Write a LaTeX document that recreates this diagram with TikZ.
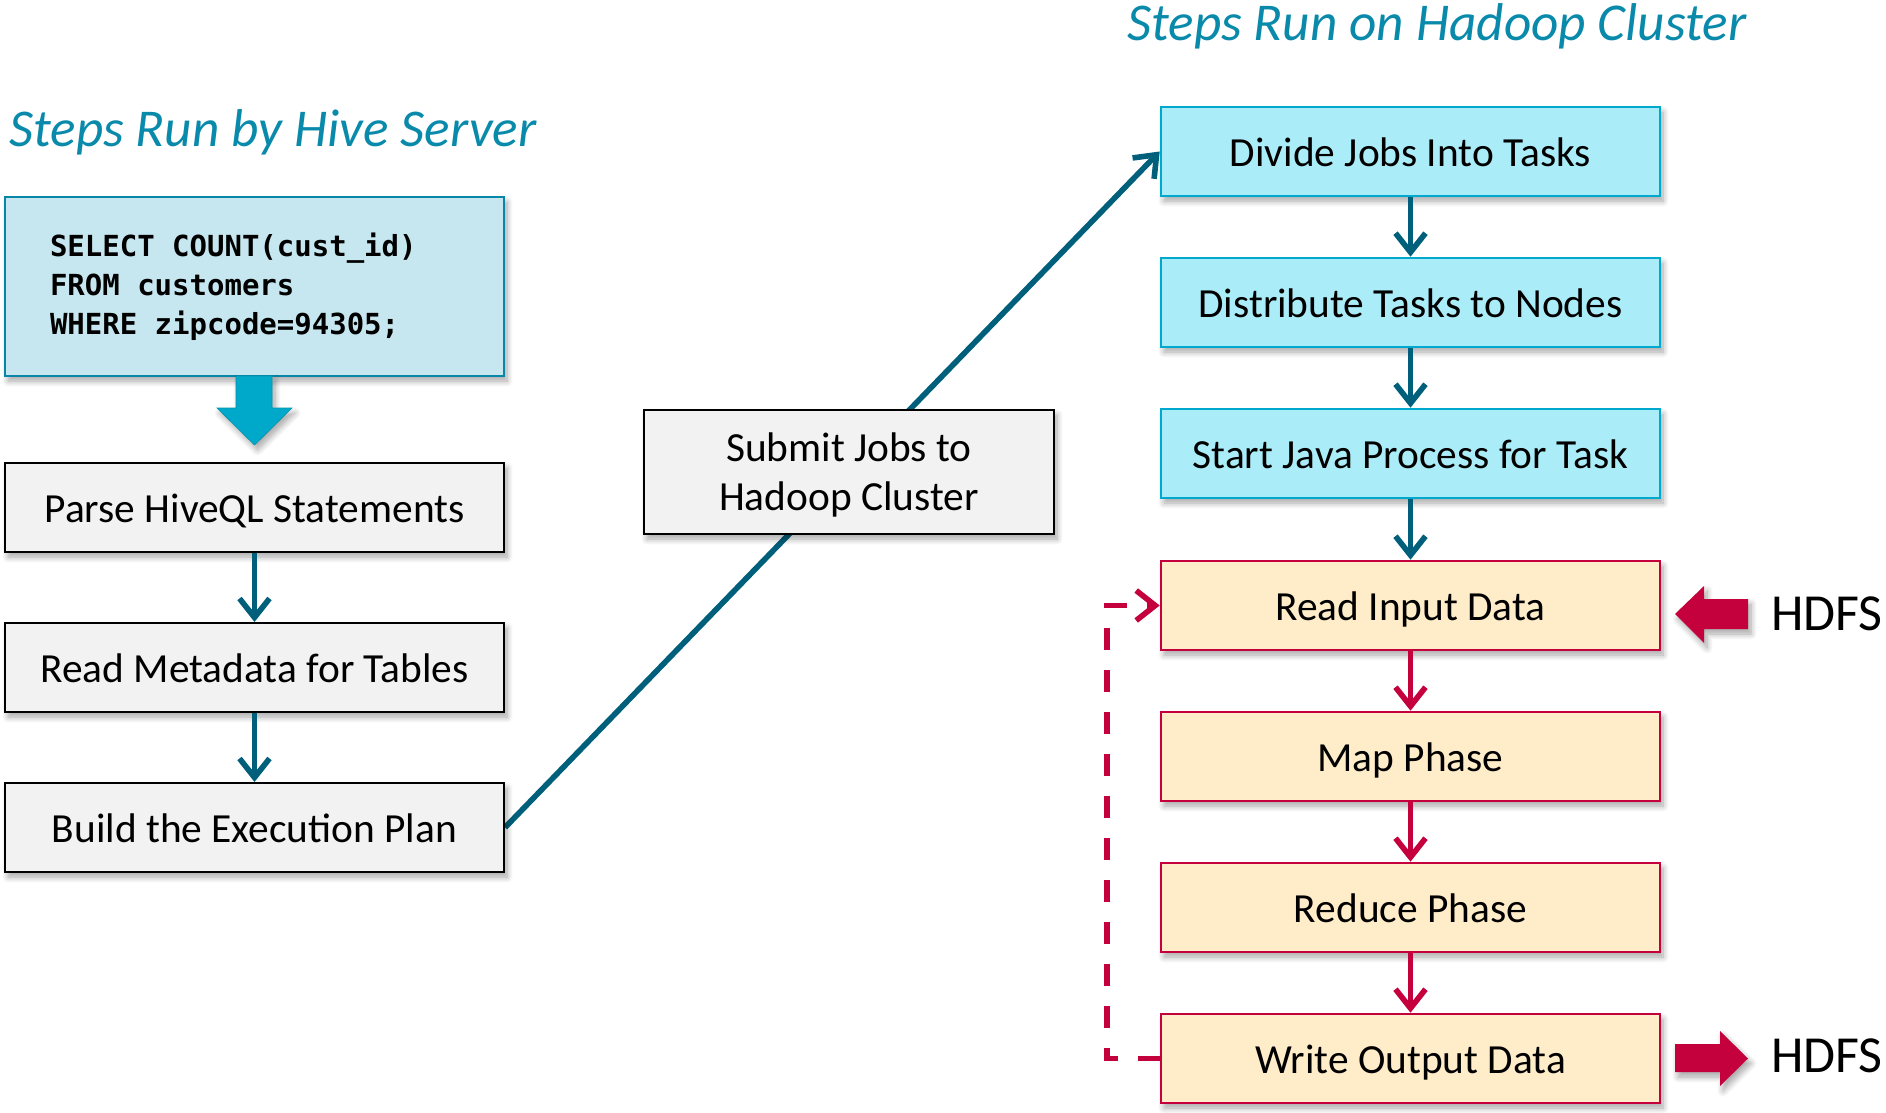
\documentclass[tikz,border=0pt]{standalone}
\usepackage{fontspec}
\setmainfont{Carlito}
\newfontfamily\codefont{DejaVu Sans Mono}
\newcommand\codesp{\hspace*{0.602em}}
\usetikzlibrary{arrows.meta,shadows.blur,backgrounds,calc}
\definecolor{titleblue}{HTML}{0A8AAA}
\definecolor{conn}{HTML}{005F7A}
\definecolor{sqlfill}{HTML}{C6E7EF}
\definecolor{sqlborder}{HTML}{0786A8}
\definecolor{blockarrow}{HTML}{00A9C9}
\definecolor{grayfill}{HTML}{F2F2F2}
\definecolor{cyanfill}{HTML}{ABECF9}
\definecolor{cyanborder}{HTML}{00A8CD}
\definecolor{yelfill}{HTML}{FFEDC9}
\definecolor{crimson}{HTML}{C4003D}
\tikzset{
  boxshadow/.style={blur shadow={shadow xshift=1.5pt, shadow yshift=-2.5pt, shadow blur steps=8, shadow blur radius=3pt, shadow opacity=35}},
  basebox/.style={minimum width=249.5pt, minimum height=44.5pt, inner sep=0pt,
    font=\fontsize{20.7pt}{24pt}\selectfont, boxshadow},
  onelinetext/.style={text height=15pt, text depth=0pt},
  graybox/.style={basebox, draw=black, line width=1pt, fill=grayfill},
  cyanbox/.style={basebox, onelinetext, draw=cyanborder, line width=1.3pt, fill=cyanfill},
  yelbox/.style={basebox, onelinetext, draw=crimson, line width=1.3pt, fill=yelfill},
  flowarrow/.style={draw=conn, line width=2.8pt, -{Straight Barb[length=9.5pt,width=15pt]}},
  redarrow/.style={draw=crimson, line width=2.8pt, -{Straight Barb[length=9.5pt,width=15pt]}},
  titletext/.style={anchor=base west, inner sep=0pt, text=titleblue,
    font=\fontsize{26.6pt}{30pt}\selectfont\itshape},
  hdfstext/.style={anchor=base west, inner sep=0pt, font=\fontsize{26pt}{30pt}\selectfont},
}
\begin{document}
\begin{tikzpicture}[x=0.5pt,y=-0.5pt]
\useasboundingbox (0,0) rectangle (1886,1113);

% titles
\node[titletext] (t1) at (9,147) {Steps Run by Hive Server};
\node[titletext] (t2) at (1127,41) {Steps Run on Hadoop Cluster};

% left column
\node[draw=sqlborder, line width=1.3pt, fill=sqlfill, minimum width=249.5pt, minimum height=89.5pt,
      inner xsep=22.5pt, inner ysep=0pt, text width=204.5pt, align=left, boxshadow,
      font=\codefont\bfseries\fontsize{14.5pt}{19.5pt}\selectfont] (sql) at (254.5,286.5)
  {SELECT\codesp COUNT(cust\_id)\\FROM\codesp customers\\WHERE\codesp zipcode=94305;};
\fill[blockarrow, draw=blockarrow!85!black, line width=0.3pt, boxshadow]
  (236,376) -- (272,376) -- (272,408) -- (292,408) -- (254.5,445) -- (217,408) -- (236,408) -- cycle;

\node[graybox, onelinetext] (parse) at (254.5,507.5) {Parse HiveQL Statements};
\node[graybox, onelinetext] (meta) at (254.5,667.5) {Read Metadata for Tables};
\node[graybox, onelinetext] (build) at (254.5,827.5) {Build the Execution Plan};

\node[graybox, minimum width=205pt, minimum height=62pt, align=center,
      font=\fontsize{20.7pt}{24.5pt}\selectfont] (submit) at (849,472)
  {\rule{0pt}{17pt}Submit Jobs to\\Hadoop Cluster};

% right column
\node[cyanbox] (divide) at (1410.5,151.5) {Divide Jobs Into Tasks};
\node[cyanbox] (distrib) at (1410.5,302.5) {Distribute Tasks to Nodes};
\node[cyanbox] (java) at (1410.5,453.5) {Start Java Process for Task};
\node[yelbox] (read) at (1410.5,605.5) {Read Input Data};
\node[yelbox] (map) at (1410.5,756.5) {Map Phase};
\node[yelbox] (reduce) at (1410.5,907.5) {Reduce Phase};
\node[yelbox] (write) at (1410.5,1058.5) {Write Output Data};

% HDFS
\node[hdfstext] (hdfsin) at (1771,630) {HDFS};
\node[hdfstext] (hdfsout) at (1771,1072) {HDFS};
\fill[crimson, boxshadow] (1675,614) -- (1704,586) -- (1704,599) -- (1748,599) -- (1748,629) -- (1704,629) -- (1704,643) -- cycle;
\fill[crimson, boxshadow] (1675,1044) -- (1720,1044) -- (1720,1031) -- (1748,1058.5) -- (1720,1086) -- (1720,1072) -- (1675,1072) -- cycle;

% connectors
\draw[flowarrow] (parse.south) -- (meta.north);
\draw[flowarrow] (meta.south) -- (build.north);
\begin{scope}[on background layer]
\draw[flowarrow] (build.east) -- (divide.west);
\end{scope}
\draw[flowarrow] (divide.south) -- (distrib.north);
\draw[flowarrow] (distrib.south) -- (java.north);
\draw[flowarrow] (java.south) -- (read.north);
\draw[redarrow] (read.south) -- (map.north);
\draw[redarrow] (map.south) -- (reduce.north);
\draw[redarrow] (reduce.south) -- (write.north);
\draw[redarrow, dash pattern=on 11pt off 10pt] (write.west) -- ++(-53,0) |- (read.west);
\end{tikzpicture}
\end{document}
